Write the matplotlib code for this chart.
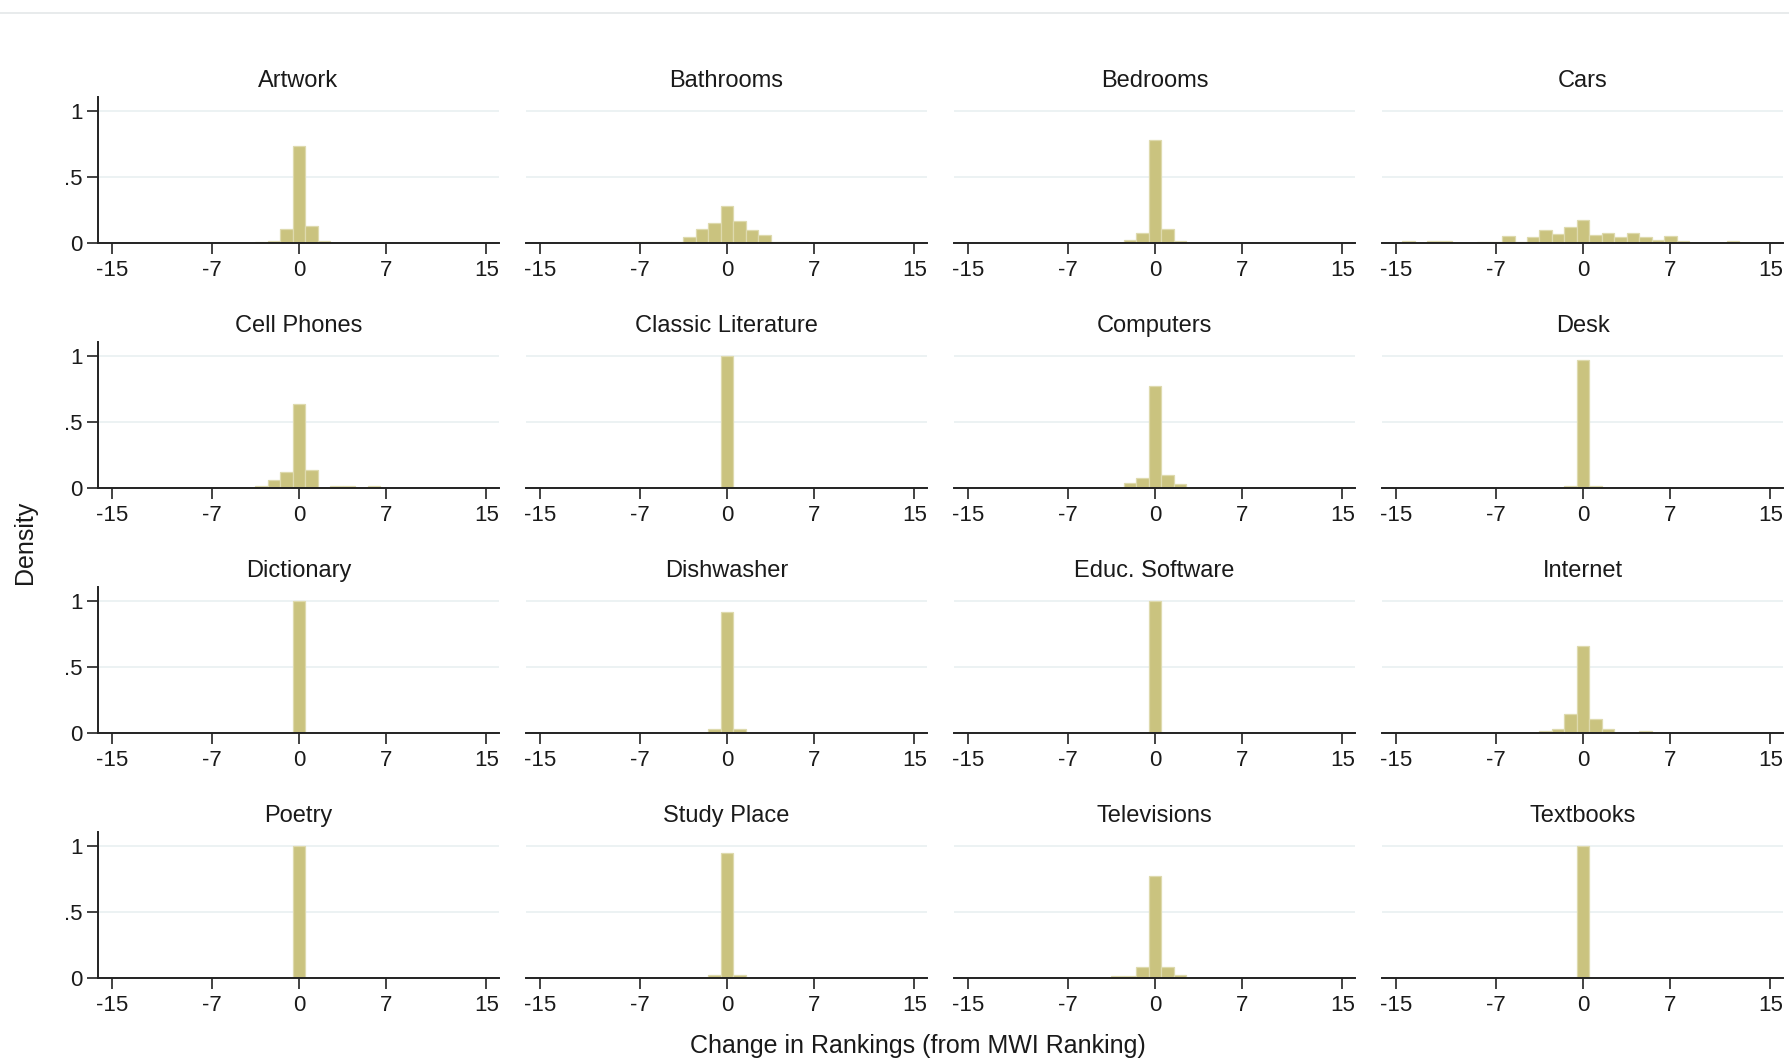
import matplotlib
matplotlib.use("Agg")
import matplotlib.pyplot as plt
from matplotlib.lines import Line2D
import numpy as np

plt.rcParams['font.family'] = ['Liberation Sans', 'DejaVu Sans']

# bins: change in ranking, -15 .. 15 (bar centred on each integer, width 1)
bins = list(range(-15, 16))

categories = ["Artwork", "Bathrooms", "Bedrooms", "Cars",
              "Cell Phones", "Classic Literature", "Computers", "Desk",
              "Dictionary", "Dishwasher", "Educ. Software", "Internet",
              "Poetry", "Study Place", "Televisions", "Textbooks"]

# densities, index 0 -> bin -15, index 30 -> bin 15
#              -15 -14 -13 -12 -11 -10 -9 -8 -7 -6 -5 -4 -3 -2 -1 0 1 2 3 4 5 6 7 8 9 10 11 12 13 14 15
artwork      = [0, 0, 0, 0, 0, 0, 0, 0, 0, 0, 0, 0, 0.010, 0.012, 0.106, 0.734, 0.132, 0.012, 0, 0, 0, 0, 0, 0, 0, 0, 0, 0, 0, 0, 0]
bathrooms    = [0, 0, 0, 0, 0, 0, 0, 0, 0.010, 0.010, 0.010, 0.010, 0.046, 0.106, 0.154, 0.284, 0.167, 0.096, 0.063, 0.010, 0.010, 0.010, 0, 0, 0, 0, 0, 0, 0, 0, 0]
bedrooms     = [0, 0, 0, 0, 0, 0, 0, 0, 0, 0, 0, 0, 0, 0.025, 0.073, 0.780, 0.106, 0.013, 0, 0, 0, 0, 0, 0, 0, 0, 0, 0, 0, 0, 0]
cars         = [0, 0.013, 0, 0.012, 0.012, 0, 0, 0.010, 0.010, 0.050, 0.008, 0.048, 0.096, 0.071, 0.122, 0.177, 0.061, 0.073, 0.048, 0.073, 0.048, 0.025, 0.050, 0.013, 0, 0, 0, 0.013, 0, 0, 0]
cell_phones  = [0, 0, 0, 0, 0, 0, 0, 0, 0, 0, 0, 0, 0.015, 0.063, 0.120, 0.637, 0.134, 0, 0.012, 0.012, 0, 0.012, 0, 0, 0, 0, 0, 0, 0, 0, 0]
classic_lit  = [0, 0, 0, 0, 0, 0, 0, 0, 0, 0, 0, 0, 0, 0, 0, 1.0, 0, 0, 0, 0, 0, 0, 0, 0, 0, 0, 0, 0, 0, 0, 0]
computers    = [0, 0, 0, 0, 0, 0, 0, 0, 0, 0, 0, 0, 0, 0.038, 0.073, 0.778, 0.098, 0.030, 0, 0, 0, 0, 0, 0, 0, 0, 0, 0, 0, 0, 0]
desk         = [0, 0, 0, 0, 0, 0, 0, 0, 0, 0, 0, 0, 0, 0, 0.012, 0.975, 0.012, 0, 0, 0, 0, 0, 0, 0, 0, 0, 0, 0, 0, 0, 0]
dictionary   = [0, 0, 0, 0, 0, 0, 0, 0, 0, 0, 0, 0, 0, 0, 0, 1.0, 0, 0, 0, 0, 0, 0, 0, 0, 0, 0, 0, 0, 0, 0, 0]
dishwasher   = [0, 0, 0, 0, 0, 0, 0, 0, 0, 0, 0, 0, 0, 0, 0.033, 0.920, 0.033, 0, 0, 0, 0, 0, 0, 0, 0, 0, 0, 0, 0, 0, 0]
educ_soft    = [0, 0, 0, 0, 0, 0, 0, 0, 0, 0, 0, 0, 0, 0, 0, 1.0, 0, 0, 0, 0, 0, 0, 0, 0, 0, 0, 0, 0, 0, 0, 0]
internet     = [0, 0, 0, 0, 0, 0, 0, 0, 0, 0, 0, 0, 0.012, 0.033, 0.141, 0.664, 0.103, 0.033, 0, 0, 0.012, 0, 0, 0, 0, 0, 0, 0, 0, 0, 0]
poetry       = [0, 0, 0, 0, 0, 0, 0, 0, 0, 0, 0, 0, 0, 0, 0, 1.0, 0, 0, 0, 0, 0, 0, 0, 0, 0, 0, 0, 0, 0, 0, 0]
study_place  = [0, 0, 0, 0, 0, 0, 0, 0, 0, 0, 0, 0, 0, 0, 0.023, 0.954, 0.023, 0, 0, 0, 0, 0, 0, 0, 0, 0, 0, 0, 0, 0, 0]
televisions  = [0, 0, 0, 0, 0, 0, 0, 0, 0, 0, 0, 0, 0.012, 0.012, 0.082, 0.778, 0.082, 0.021, 0, 0, 0, 0, 0, 0, 0, 0, 0, 0, 0, 0, 0]
textbooks    = [0, 0, 0, 0, 0, 0, 0, 0, 0, 0, 0, 0, 0, 0, 0, 1.0, 0, 0, 0, 0, 0, 0, 0, 0, 0, 0, 0, 0, 0, 0, 0]

series = [artwork, bathrooms, bedrooms, cars,
          cell_phones, classic_lit, computers, desk,
          dictionary, dishwasher, educ_soft, internet,
          poetry, study_place, televisions, textbooks]

x_ticks = [-15, -7, 0, 7, 15]
x_tick_labels = ["-15", "-7", "0", "7", "15"]
y_ticks = [0, 0.5, 1]
y_tick_labels = ["0", ".5", "1"]

BAR = "#CAC37F"
EDGE = "#DEDAAE"
GRID = "#EAF1F2"
TXT = "#1a1a1a"

W, H = 1789, 1060
fig = plt.figure(figsize=(W / 100, H / 100), dpi=100)
fig.patch.set_facecolor("white")

left0 = 98 / W
col_step = 428 / W
ax_w = 401 / W
bottom0 = (H - 243) / H
row_step = 245 / H
ax_h = 146 / H

for i, (name, vals) in enumerate(zip(categories, series)):
    r, c = divmod(i, 4)
    ax = fig.add_axes([left0 + c * col_step, bottom0 - r * row_step, ax_w, ax_h])
    b = np.array(bins)
    v = np.array(vals, dtype=float)
    m = v > 0
    ax.bar(b[m], v[m], width=1.0, color=BAR, edgecolor=EDGE, linewidth=0.9, zorder=2)
    ax.set_xlim(-16.12, 16.02)
    ax.set_ylim(0, 1.11)
    ax.set_xticks(x_ticks)
    ax.set_xticklabels(x_tick_labels)
    ax.set_yticks(y_ticks)
    ax.set_yticklabels(y_tick_labels)
    ax.yaxis.grid(True, color=GRID, linewidth=1.3, zorder=0)
    ax.set_axisbelow(True)
    for s in ("top", "right"):
        ax.spines[s].set_visible(False)
    ax.spines["bottom"].set_color("#222222")
    ax.spines["bottom"].set_linewidth(1.4)
    ax.spines["bottom"].set_zorder(3)
    ax.tick_params(axis="x", direction="out", length=8, width=1.2, color="#222222",
                   labelsize=16, labelcolor=TXT, pad=4)
    if c == 0:
        ax.spines["left"].set_color("#222222")
        ax.spines["left"].set_linewidth(1.4)
        ax.tick_params(axis="y", direction="out", length=8, width=1.2, color="#222222",
                       labelsize=16, labelcolor=TXT, pad=3)
    else:
        ax.spines["left"].set_visible(False)
        ax.tick_params(axis="y", left=False, labelleft=False)
    ax.set_title(name, fontsize=17, color=TXT, pad=7)

fig.text(918 / W, 1 - 1046 / H, "Change in Rankings (from MWI Ranking)",
         ha="center", va="center", fontsize=18, color=TXT)
fig.text(25 / W, 1 - 542 / H, "Density", rotation=90,
         ha="center", va="center", fontsize=18, color=TXT)

fig.add_artist(Line2D([0, 1], [1 - 13 / H, 1 - 13 / H], transform=fig.transFigure,
                      color="#E4E8E9", linewidth=1.2))

fig.savefig("out.png", dpi=100, facecolor="white")
